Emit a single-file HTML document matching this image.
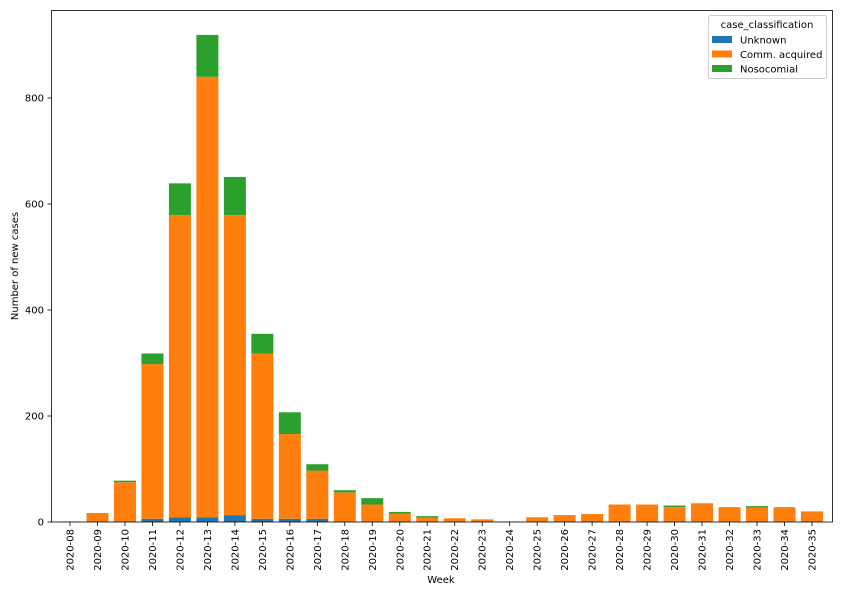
<!DOCTYPE html>
<html><head><meta charset="utf-8"><style>
body{margin:0;background:#fff;}
svg{display:block;font-family:"DejaVu Sans","Liberation Sans",sans-serif;}
</style></head><body>
<svg id="s" width="842" height="595" xmlns="http://www.w3.org/2000/svg"></svg>
<script>
const d=[[0,1,0],[0,17,0],[0,75,3],[6,292,20],[9,570,60],[9,831,79],[13,566,72],[6,312,37],[6,160,41],[6,91,12],[0,56,4],[0,33,12],[1,15,3],[0,8,3],[0,7,0],[0,5,0],[0,1,0],[0,9,0],[0,13,0],[0,15,0],[0,33,0],[0,33,0],[0,28,3],[0,34,1],[0,28,0],[0,27,3],[0,28,0],[0,20,0]];
const y0=522,k=0.53,x0=70,dx=27.48,w=22;
let h='';
const c=['#1f77b4','#ff7f0e','#2ca02c'];
d.forEach((v,i)=>{let b=0;const xc=x0+i*dx;
v.forEach((val,j)=>{if(val>0){h+=`<rect x="${xc-w/2}" y="${y0-(b+val)*k}" width="${w}" height="${val*k}" fill="${c[j]}"/>`;}b+=val;});
h+=`<line x1="${xc}" x2="${xc}" y1="522" y2="526" stroke="#000" stroke-width="0.8"/>`;
const wk=String(8+i).padStart(2,'0');
h+=`<text transform="translate(${xc+3.5},529) rotate(-90)" text-anchor="end" font-size="10">2020-${wk}</text>`;});
[0,200,400,600,800].forEach(t=>{const y=y0-t*k;h+=`<line x1="47.5" x2="51.5" y1="${y}" y2="${y}" stroke="#000" stroke-width="0.8"/><text x="44" y="${y+3.5}" text-anchor="end" font-size="10">${t}</text>`;});
h+=`<rect x="51.5" y="10.5" width="781" height="511.5" fill="none" stroke="#000" stroke-width="0.8"/>`;
h+=`<text x="441" y="583" text-anchor="middle" font-size="10">Week</text>`;
h+=`<text transform="translate(18,266) rotate(-90)" text-anchor="middle" font-size="10">Number of new cases</text>`;
h+=`<rect x="708.5" y="15.5" width="118" height="63" rx="2" fill="#fff" stroke="#ccc"/>`;
h+=`<text x="767" y="28" text-anchor="middle" font-size="10">case_classification</text>`;
['Unknown','Comm. acquired','Nosocomial'].forEach((n,i)=>{const y=36+i*14.5;h+=`<rect x="712" y="${y}" width="20" height="7" fill="${c[i]}"/><text x="740" y="${y+7.5}" font-size="10">${n}</text>`;});
document.getElementById('s').innerHTML=h;
</script>
</body></html>
